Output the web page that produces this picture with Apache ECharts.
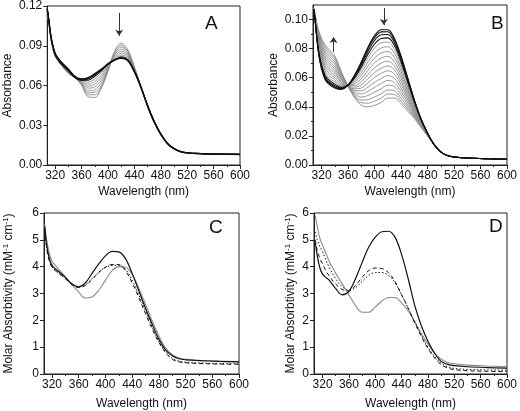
<!DOCTYPE html>
<html><head><meta charset="utf-8">
<script src="https://cdn.jsdelivr.net/npm/echarts@6/dist/echarts.min.js"></script>
<style>html,body{margin:0;padding:0;background:#fff}#c{width:520px;height:411px}</style>
</head><body><div id="c"></div>
<script>
const FONT = '"Liberation Sans", Arial, Helvetica, sans-serif';

// ---- wavelength grids (nm)
const wlAB = [308, 310, 313, 316, 320, 325, 330, 340, 350, 360, 370, 380, 390, 400, 410, 420, 430, 440, 450, 460, 470, 480, 490, 500, 510, 520, 540, 570, 600];
const wlCD = [309, 312, 316, 320, 325, 330, 340, 350, 360, 370, 380, 390, 400, 410, 420, 430, 440, 450, 460, 470, 480, 490, 500, 510, 520, 540, 570, 600];

// ---- Panel A (absorbance), gray spectra
const a1 = [0.117, 0.109, 0.097, 0.089, 0.082, 0.078, 0.075, 0.069, 0.066, 0.060, 0.0515, 0.051, 0.058, 0.071, 0.086, 0.092, 0.087, 0.074, 0.059, 0.045, 0.033, 0.0235, 0.0165, 0.0125, 0.0102, 0.0093, 0.0087, 0.0083, 0.0081];
const a2 = [0.117, 0.109, 0.097, 0.089, 0.082, 0.078, 0.075, 0.069, 0.066, 0.061, 0.053, 0.053, 0.059, 0.071, 0.085, 0.0905, 0.086, 0.074, 0.059, 0.045, 0.033, 0.0235, 0.0165, 0.0125, 0.0102, 0.0093, 0.0087, 0.0083, 0.0081];
const a3 = [0.117, 0.109, 0.097, 0.089, 0.0822, 0.0782, 0.0752, 0.0695, 0.066, 0.061, 0.0545, 0.055, 0.060, 0.072, 0.084, 0.089, 0.085, 0.073, 0.059, 0.045, 0.033, 0.0235, 0.0165, 0.0125, 0.0102, 0.0093, 0.0087, 0.0083, 0.0081];
const a4 = [0.117, 0.1095, 0.0975, 0.0893, 0.0824, 0.0784, 0.0754, 0.070, 0.066, 0.062, 0.056, 0.057, 0.062, 0.072, 0.083, 0.0875, 0.084, 0.073, 0.059, 0.045, 0.033, 0.0235, 0.0165, 0.0125, 0.0102, 0.0093, 0.0087, 0.0083, 0.0081];
const a5 = [0.117, 0.1095, 0.0975, 0.0895, 0.0826, 0.0786, 0.0756, 0.0702, 0.066, 0.062, 0.058, 0.059, 0.064, 0.073, 0.082, 0.086, 0.083, 0.073, 0.059, 0.045, 0.033, 0.0235, 0.0165, 0.0125, 0.0102, 0.0093, 0.0087, 0.0083, 0.0081];
const a6 = [0.117, 0.110, 0.098, 0.0897, 0.0827, 0.0787, 0.0757, 0.0705, 0.066, 0.063, 0.0595, 0.061, 0.066, 0.074, 0.081, 0.0845, 0.082, 0.072, 0.059, 0.045, 0.033, 0.0235, 0.0165, 0.0125, 0.0102, 0.0093, 0.0087, 0.0083, 0.0081];
const a7 = [0.117, 0.110, 0.098, 0.0898, 0.0828, 0.0788, 0.0758, 0.0707, 0.066, 0.063, 0.061, 0.063, 0.068, 0.075, 0.080, 0.083, 0.081, 0.072, 0.059, 0.045, 0.033, 0.0235, 0.0165, 0.0125, 0.0102, 0.0093, 0.0087, 0.0083, 0.0081];
const a8 = [0.117, 0.110, 0.098, 0.090, 0.083, 0.079, 0.076, 0.071, 0.066, 0.064, 0.0625, 0.065, 0.070, 0.075, 0.080, 0.082, 0.080, 0.072, 0.059, 0.045, 0.033, 0.0235, 0.0165, 0.0125, 0.0102, 0.0093, 0.0087, 0.0083, 0.0081];
// Panel A, black spectra
const ak1 = [0.117, 0.110, 0.098, 0.090, 0.083, 0.079, 0.076, 0.071, 0.066, 0.064, 0.064, 0.067, 0.071, 0.076, 0.079, 0.0815, 0.0795, 0.071, 0.059, 0.045, 0.033, 0.0235, 0.0165, 0.0125, 0.0102, 0.0093, 0.0087, 0.0083, 0.0081];
const ak2 = [0.118, 0.111, 0.099, 0.091, 0.0835, 0.0795, 0.0765, 0.0715, 0.066, 0.064, 0.065, 0.068, 0.072, 0.076, 0.079, 0.081, 0.079, 0.071, 0.059, 0.045, 0.033, 0.0235, 0.0165, 0.0125, 0.0102, 0.0093, 0.0087, 0.0083, 0.0081];
const ak3 = [0.118, 0.111, 0.099, 0.091, 0.084, 0.080, 0.077, 0.072, 0.0665, 0.0645, 0.0655, 0.0685, 0.072, 0.0765, 0.0795, 0.081, 0.079, 0.0705, 0.0585, 0.0445, 0.0325, 0.023, 0.0162, 0.0122, 0.010, 0.0091, 0.0085, 0.0081, 0.0079];
const ak4 = [0.118, 0.1115, 0.0995, 0.0915, 0.0845, 0.0805, 0.0775, 0.0725, 0.067, 0.065, 0.066, 0.069, 0.0725, 0.0765, 0.0795, 0.0805, 0.0785, 0.070, 0.058, 0.044, 0.032, 0.0228, 0.016, 0.012, 0.0099, 0.009, 0.0084, 0.008, 0.0078];

// ---- Panel B (absorbance), black spectra
const bk1 = [0.107, 0.100, 0.086, 0.075, 0.066, 0.059, 0.056, 0.053, 0.052, 0.055, 0.062, 0.071, 0.081, 0.089, 0.093, 0.093, 0.087, 0.075, 0.060, 0.045, 0.032, 0.022, 0.014, 0.009, 0.0065, 0.0055, 0.0048, 0.0043, 0.004];
const bk2 = [0.107, 0.100, 0.0863, 0.0755, 0.0666, 0.0597, 0.0567, 0.0537, 0.0524, 0.0550, 0.0615, 0.0701, 0.0798, 0.0876, 0.0915, 0.0916, 0.0858, 0.0740, 0.0593, 0.0446, 0.0318, 0.0219, 0.014, 0.009, 0.0065, 0.0055, 0.0048, 0.0043, 0.004];
const bk3 = [0.107, 0.1005, 0.0868, 0.0762, 0.0675, 0.0607, 0.0577, 0.0545, 0.0528, 0.0549, 0.0609, 0.0689, 0.0781, 0.0856, 0.0895, 0.0897, 0.0841, 0.0727, 0.0584, 0.0441, 0.0316, 0.0219, 0.014, 0.009, 0.0065, 0.0055, 0.0048, 0.0043, 0.004];
const bk4 = [0.107, 0.1005, 0.0873, 0.0770, 0.0685, 0.0619, 0.0589, 0.0556, 0.0534, 0.0549, 0.0601, 0.0674, 0.0761, 0.0832, 0.0870, 0.0874, 0.0821, 0.0710, 0.0572, 0.0434, 0.0313, 0.0218, 0.014, 0.009, 0.0065, 0.0055, 0.0048, 0.0043, 0.004];
// Panel B, gray spectra
const bg1 = [0.107, 0.101, 0.0880, 0.0781, 0.0698, 0.0633, 0.0603, 0.0570, 0.0542, 0.0548, 0.0591, 0.0656, 0.0736, 0.0804, 0.0840, 0.0845, 0.0796, 0.0691, 0.0559, 0.0427, 0.0309, 0.0216, 0.014, 0.009, 0.0065, 0.0055, 0.0048, 0.0043, 0.004];
const bg2 = [0.107, 0.101, 0.0888, 0.0793, 0.0713, 0.0650, 0.0620, 0.0585, 0.0550, 0.0548, 0.0580, 0.0635, 0.0708, 0.0770, 0.0805, 0.0813, 0.0768, 0.0668, 0.0543, 0.0418, 0.0305, 0.0215, 0.014, 0.009, 0.0065, 0.0055, 0.0048, 0.0043, 0.004];
const bg3 = [0.107, 0.1015, 0.0895, 0.0804, 0.0727, 0.0667, 0.0637, 0.0600, 0.0558, 0.0547, 0.0569, 0.0614, 0.0679, 0.0736, 0.0770, 0.0780, 0.0739, 0.0644, 0.0526, 0.0408, 0.0301, 0.0214, 0.014, 0.009, 0.0065, 0.0055, 0.0048, 0.0043, 0.004];
const bg4 = [0.107, 0.1015, 0.0903, 0.0816, 0.0742, 0.0684, 0.0654, 0.0616, 0.0567, 0.0546, 0.0558, 0.0593, 0.0650, 0.0703, 0.0735, 0.0747, 0.0710, 0.0621, 0.0510, 0.0399, 0.0297, 0.0212, 0.014, 0.009, 0.0065, 0.0055, 0.0048, 0.0043, 0.004];
const bg5 = [0.1075, 0.102, 0.0911, 0.0828, 0.0757, 0.0700, 0.0670, 0.0631, 0.0575, 0.0545, 0.0546, 0.0572, 0.0621, 0.0669, 0.0700, 0.0714, 0.0681, 0.0598, 0.0494, 0.0390, 0.0292, 0.0211, 0.014, 0.009, 0.0065, 0.0055, 0.0048, 0.0043, 0.004];
const bg6 = [0.1075, 0.102, 0.0918, 0.0840, 0.0771, 0.0717, 0.0687, 0.0647, 0.0584, 0.0545, 0.0535, 0.0551, 0.0593, 0.0636, 0.0665, 0.0681, 0.0653, 0.0575, 0.0478, 0.0381, 0.0288, 0.0209, 0.014, 0.009, 0.0065, 0.0055, 0.0048, 0.0043, 0.004];
const bg7 = [0.1075, 0.1025, 0.0926, 0.0852, 0.0786, 0.0734, 0.0704, 0.0662, 0.0592, 0.0544, 0.0524, 0.0530, 0.0564, 0.0602, 0.0630, 0.0648, 0.0624, 0.0552, 0.0462, 0.0372, 0.0284, 0.0208, 0.014, 0.009, 0.0065, 0.0055, 0.0048, 0.0043, 0.004];
const bg8 = [0.1075, 0.1025, 0.0934, 0.0864, 0.0801, 0.0751, 0.0721, 0.0677, 0.0600, 0.0543, 0.0513, 0.0509, 0.0535, 0.0568, 0.0595, 0.0615, 0.0595, 0.0529, 0.0446, 0.0363, 0.0280, 0.0207, 0.014, 0.009, 0.0065, 0.0055, 0.0048, 0.0043, 0.004];
const bg9 = [0.108, 0.103, 0.0941, 0.0876, 0.0815, 0.0768, 0.0738, 0.0693, 0.0609, 0.0543, 0.0502, 0.0488, 0.0507, 0.0535, 0.0560, 0.0582, 0.0567, 0.0506, 0.0430, 0.0354, 0.0276, 0.0205, 0.014, 0.009, 0.0065, 0.0055, 0.0048, 0.0043, 0.004];
const bg10 = [0.108, 0.103, 0.0949, 0.0888, 0.0830, 0.0784, 0.0754, 0.0708, 0.0617, 0.0542, 0.0490, 0.0467, 0.0478, 0.0501, 0.0525, 0.0549, 0.0538, 0.0483, 0.0414, 0.0345, 0.0271, 0.0204, 0.014, 0.009, 0.0065, 0.0055, 0.0048, 0.0043, 0.004];
const bg11 = [0.108, 0.1035, 0.0957, 0.0900, 0.0845, 0.0801, 0.0771, 0.0724, 0.0626, 0.0541, 0.0479, 0.0446, 0.0449, 0.0468, 0.0490, 0.0516, 0.0509, 0.0460, 0.0398, 0.0336, 0.0267, 0.0202, 0.014, 0.009, 0.0065, 0.0055, 0.0048, 0.0043, 0.004];
const bg12 = [0.108, 0.1035, 0.0963, 0.0910, 0.0857, 0.0816, 0.0786, 0.0737, 0.0633, 0.0541, 0.0470, 0.0428, 0.0425, 0.0439, 0.0460, 0.0488, 0.0485, 0.0440, 0.0384, 0.0328, 0.0264, 0.0201, 0.014, 0.009, 0.0065, 0.0055, 0.0048, 0.0043, 0.004];
const bg13 = [0.108, 0.104, 0.0970, 0.0920, 0.0870, 0.0830, 0.0800, 0.0750, 0.0640, 0.0540, 0.0460, 0.0410, 0.0400, 0.0410, 0.0430, 0.0460, 0.0460, 0.0420, 0.0370, 0.0320, 0.0260, 0.0200, 0.014, 0.009, 0.0065, 0.0055, 0.0048, 0.0043, 0.004];

// ---- Panel C (molar absorptivity)
const cSolid  = [5.5, 4.8, 4.3, 4.05, 3.92, 3.82, 3.6, 3.35, 3.25, 3.4, 3.75, 4.1, 4.4, 4.57, 4.55, 4.3, 3.75, 3.1, 2.45, 1.85, 1.3, 0.9, 0.68, 0.57, 0.53, 0.5, 0.47, 0.45];
const cDashed = [5.4, 4.7, 4.2, 3.98, 3.85, 3.75, 3.55, 3.33, 3.22, 3.3, 3.52, 3.78, 3.98, 4.08, 4.08, 3.85, 3.4, 2.85, 2.25, 1.68, 1.18, 0.8, 0.55, 0.45, 0.42, 0.39, 0.37, 0.36];
const cDotted = [5.4, 4.75, 4.25, 4.0, 3.86, 3.76, 3.56, 3.35, 3.25, 3.33, 3.55, 3.8, 3.97, 4.05, 4.05, 3.9, 3.5, 2.95, 2.35, 1.75, 1.22, 0.83, 0.58, 0.48, 0.44, 0.41, 0.39, 0.38];
const cGray   = [5.6, 5.0, 4.5, 4.2, 4.05, 3.9, 3.62, 3.32, 3.05, 2.83, 2.87, 3.12, 3.5, 3.85, 4.0, 3.98, 3.72, 3.2, 2.6, 1.98, 1.42, 0.98, 0.72, 0.6, 0.55, 0.51, 0.48, 0.46];

// ---- Panel D (molar absorptivity)
const dSolid  = [4.9, 4.4, 3.95, 3.72, 3.6, 3.5, 3.18, 2.95, 3.08, 3.55, 4.15, 4.72, 5.1, 5.3, 5.32, 5.1, 4.45, 3.55, 2.55, 1.8, 1.22, 0.78, 0.47, 0.36, 0.31, 0.27, 0.24, 0.22];
const dDashed = [5.0, 4.6, 4.3, 4.1, 3.85, 3.65, 3.35, 3.15, 3.1, 3.3, 3.6, 3.85, 3.95, 3.93, 3.78, 3.45, 2.95, 2.45, 1.9, 1.4, 0.95, 0.6, 0.35, 0.22, 0.16, 0.12, 0.1, 0.09];
const dDotted = [5.3, 5.0, 4.75, 4.55, 4.25, 3.98, 3.55, 3.25, 3.12, 3.22, 3.45, 3.67, 3.78, 3.78, 3.68, 3.4, 2.95, 2.45, 1.95, 1.45, 1.0, 0.65, 0.4, 0.27, 0.21, 0.17, 0.15, 0.14];
const dGray   = [5.9, 5.5, 5.05, 4.8, 4.5, 4.2, 3.75, 3.35, 2.95, 2.55, 2.3, 2.3, 2.5, 2.72, 2.85, 2.85, 2.65, 2.35, 1.95, 1.5, 1.12, 0.78, 0.55, 0.43, 0.38, 0.33, 0.3, 0.28];

// ---- ticks
const xMajor = [320, 360, 400, 440, 480, 520, 560, 600];
const xMinor = [340, 380, 420, 460, 500, 540, 580];
const yMajorA = [0, 0.03, 0.06, 0.09, 0.12];
const yMajorB = [0, 0.02, 0.04, 0.06, 0.08, 0.10];
const yMinorB = [0.01, 0.03, 0.05, 0.07, 0.09];
const yMajorCD = [0, 1, 2, 3, 4, 5, 6];

// ---- annotation arrows [x, yStart, yEnd]
const arrowA = [417, 0.1148, 0.0975];
const arrowB1 = [414, 0.1079, 0.0962];
const arrowB2 = [338, 0.0777, 0.0880];

const AXC = '#222';
const panels = [
  {grid: {left: 44, top: 5, width: 196, height: 160}, xmin: 308, ymax: 0.12, yMajor: yMajorA, yMinor: [], dec: 2, yName: 'Absorbance', yGap: 30, xGap: 21, letter: 'A', lx: 205, ly: 14},
  {grid: {left: 313, top: 5, width: 195, height: 160}, xmin: 307, ymax: 0.11, yMajor: yMajorB, yMinor: yMinorB, dec: 2, yName: 'Absorbance', yGap: 29, xGap: 21, letter: 'B', lx: 491, ly: 14},
  {grid: {left: 44, top: 213, width: 195, height: 161}, xmin: 308, ymax: 6, yMajor: yMajorCD, yMinor: [], dec: 0, yName: 'Molar Absorbtivity (mM{s|-1} cm{s|-1})', yGap: 28, xGap: 24, letter: 'C', lx: 209, ly: 218},
  {grid: {left: 314, top: 213, width: 196, height: 161}, xmin: 307, ymax: 6, yMajor: yMajorCD, yMinor: [], dec: 0, yName: 'Molar Absorbtivity (mM{s|-1} cm{s|-1})', yGap: 16, xGap: 24, letter: 'D', lx: 489, ly: 217}
];

const grids = [], xAxes = [], yAxes = [], graphics = [];
const txt = {color: '#111', fontSize: 12, fontFamily: FONT};
panels.forEach((p, g) => {
  grids.push(Object.assign({show: true, borderColor: AXC, borderWidth: 1, backgroundColor: 'transparent'}, p.grid));
  xAxes.push({gridIndex: g, type: 'value', min: p.xmin, max: 600, position: 'bottom',
    axisLine: {show: true, onZero: false, lineStyle: {color: AXC, width: 1}},
    axisTick: {show: true, inside: false, length: 4, customValues: xMajor, lineStyle: {color: AXC}},
    axisLabel: Object.assign({customValues: xMajor, margin: 5}, txt),
    splitLine: {show: false},
    name: 'Wavelength (nm)', nameLocation: 'middle', nameGap: p.xGap, nameTextStyle: txt});
  xAxes.push({gridIndex: g, type: 'value', min: p.xmin, max: 600, position: 'bottom',
    axisLine: {show: false, onZero: false}, axisTick: {show: true, length: 2, customValues: xMinor, lineStyle: {color: AXC}},
    axisLabel: {show: false}, splitLine: {show: false}});
  yAxes.push({gridIndex: g, type: 'value', min: 0, max: p.ymax, position: 'left',
    axisLine: {show: true, onZero: false, lineStyle: {color: AXC, width: 1}},
    axisTick: {show: true, inside: false, length: 4, customValues: p.yMajor, lineStyle: {color: AXC}},
    axisLabel: Object.assign({customValues: p.yMajor, margin: 5, formatter: v => Number(v).toFixed(p.dec)}, txt),
    splitLine: {show: false},
    name: p.yName, nameLocation: 'middle', nameGap: p.yGap, nameRotate: 90,
    nameTextStyle: Object.assign({lineHeight: 14, rich: {s: {fontSize: 8, verticalAlign: 'top', lineHeight: 14, fontFamily: FONT, color: '#111'}}}, txt)});
  yAxes.push({gridIndex: g, type: 'value', min: 0, max: p.ymax, position: 'left',
    axisLine: {show: false, onZero: false}, axisTick: {show: p.yMinor.length > 0, length: 2, customValues: p.yMinor.length ? p.yMinor : [0], lineStyle: {color: AXC}},
    axisLabel: {show: false}, splitLine: {show: false}});
  graphics.push({type: 'text', left: p.lx, top: p.ly, silent: true, style: {text: p.letter, font: '19px ' + FONT, fill: '#111'}});
});

function mkLine(g, xs, ys, color, width, type, z) {
  return {type: 'line', xAxisIndex: 2 * g, yAxisIndex: 2 * g, data: xs.map((x, i) => [x, ys[i]]),
    showSymbol: false, smooth: 0.35, clip: true, z: z || 2,
    lineStyle: {color: color, width: width, type: type || 'solid'}, silent: true};
}
function arrowMark(a) {
  return [{coord: [a[0], a[1]]}, {coord: [a[0], a[2]]}];
}
const GRAY = '#8a8a8a', BLACK = '#111';
const series = [];
[a1, a2, a3, a4, a5, a6, a7, a8].forEach(d => series.push(mkLine(0, wlAB, d, GRAY, 0.9)));
[ak1, ak2, ak3, ak4].forEach(d => series.push(mkLine(0, wlAB, d, BLACK, 1.1, 'solid', 3)));
series[series.length - 1].markLine = {silent: true, symbol: ['none', 'arrow'], symbolSize: 6, label: {show: false},
  lineStyle: {color: '#333', width: 1, type: 'solid'}, data: [arrowMark(arrowA)]};
[bg1, bg2, bg3, bg4, bg5, bg6, bg7, bg8, bg9, bg10, bg11, bg12, bg13].forEach(d => series.push(mkLine(1, wlAB, d, GRAY, 0.9)));
[bk4, bk3, bk2, bk1].forEach(d => series.push(mkLine(1, wlAB, d, BLACK, 1.1, 'solid', 3)));
series[series.length - 1].markLine = {silent: true, symbol: ['none', 'arrow'], symbolSize: 6, label: {show: false},
  lineStyle: {color: '#333', width: 1, type: 'solid'}, data: [arrowMark(arrowB1), arrowMark(arrowB2)]};
series.push(mkLine(2, wlCD, cGray, GRAY, 1.1));
series.push(mkLine(2, wlCD, cDotted, BLACK, 1, [1.5, 2]));
series.push(mkLine(2, wlCD, cDashed, BLACK, 1, [4, 3]));
series.push(mkLine(2, wlCD, cSolid, BLACK, 1.2, 'solid', 3));
series.push(mkLine(3, wlCD, dGray, GRAY, 1.1));
series.push(mkLine(3, wlCD, dDotted, BLACK, 1, [1.5, 2]));
series.push(mkLine(3, wlCD, dDashed, BLACK, 1, [4, 3]));
series.push(mkLine(3, wlCD, dSolid, BLACK, 1.2, 'solid', 3));

const chart = echarts.init(document.getElementById('c'), null, {renderer: 'canvas'});
chart.setOption({animation: false, backgroundColor: '#fff', grid: grids, xAxis: xAxes, yAxis: yAxes, series: series, graphic: graphics});
</script></body></html>
